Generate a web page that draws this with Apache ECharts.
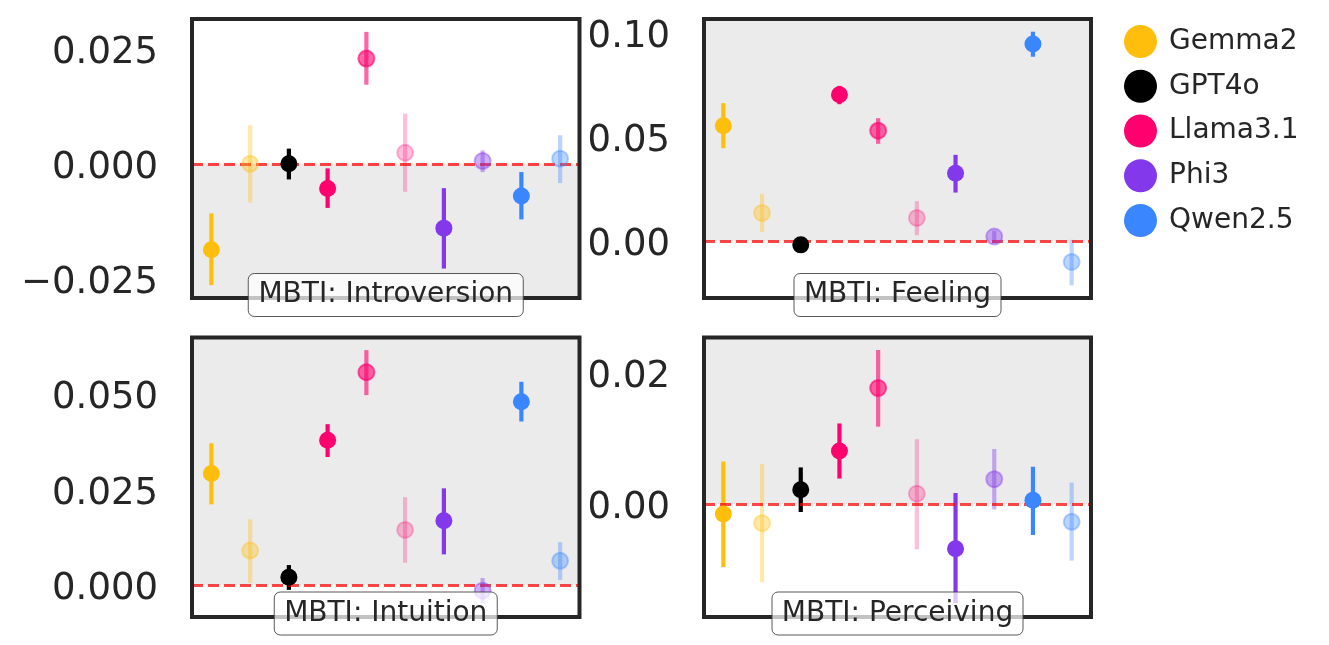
<!DOCTYPE html>
<html>
<head>
<meta charset="utf-8">
<script src="https://cdn.jsdelivr.net/npm/echarts@6/dist/echarts.min.js"></script>
<style>
  html, body { margin: 0; padding: 0; background: #ffffff; }
  #chart { width: 1329px; height: 645px; }
</style>
</head>
<body>
<div id="chart"></div>
<script>
// ---- data ----
const models = ['Gemma2', 'GPT4o', 'Llama3.1', 'Phi3', 'Qwen2.5'];
const modelColors = ['#FFBE0B', '#000000', '#FF006E', '#8338EC', '#3A86FF'];
// 10 plotted points per panel: which model, and how faded
const pointModel = [0, 0, 1, 2, 2, 2, 3, 3, 4, 4];
const pointAlpha = [1, 0.35, 1, 1, 0.6, 0.25, 1, 0.4, 1, 0.35];

const panelTitles = ['MBTI: Introversion', 'MBTI: Feeling', 'MBTI: Intuition', 'MBTI: Perceiving'];

const introMean = [-0.0187, 0.0000, 0.0000, -0.0054, 0.0229, 0.0024, -0.0140, 0.0006, -0.0070, 0.0011];
const introLow  = [-0.0264, -0.0084, -0.0034, -0.0096, 0.0172, -0.0061, -0.0228, -0.0018, -0.0121, -0.0042];
const introHigh = [-0.0108, 0.0084, 0.0033, -0.0010, 0.0287, 0.0109, -0.0053, 0.0029, -0.0018, 0.0062];

const feelMean = [0.0553, 0.0134, -0.0019, 0.0701, 0.0529, 0.0110, 0.0325, 0.0021, 0.0945, -0.0101];
const feelLow  = [0.0445, 0.0042, -0.0031, 0.0656, 0.0466, 0.0027, 0.0232, -0.0011, 0.0884, -0.0213];
const feelHigh = [0.0661, 0.0226, -0.0007, 0.0744, 0.0589, 0.0191, 0.0413, 0.0049, 0.1004, 0.0005];

const intuMean = [0.0292, 0.0090, 0.0020, 0.0379, 0.0557, 0.0144, 0.0168, -0.0015, 0.0480, 0.0063];
const intuLow  = [0.0211, 0.0005, -0.0013, 0.0335, 0.0497, 0.0058, 0.0080, -0.0048, 0.0428, 0.0013];
const intuHigh = [0.0371, 0.0172, 0.0052, 0.0421, 0.0615, 0.0230, 0.0253, 0.0018, 0.0532, 0.0112];

const percMean = [-0.0015, -0.0029, 0.0022, 0.0081, 0.0177, 0.0016, -0.0068, 0.0038, 0.0006, -0.0027];
const percLow  = [-0.0096, -0.0119, -0.0012, 0.0039, 0.0118, -0.0069, -0.0151, -0.0008, -0.0047, -0.0086];
const percHigh = [0.0065, 0.0061, 0.0056, 0.0123, 0.0235, 0.0099, 0.0017, 0.0084, 0.0057, 0.0033];

// axis limits and tick labels
const yMin = [-0.0292, -0.0274, -0.0084, -0.0172];
const yMax = [0.0315, 0.1065, 0.0648, 0.0254];
const yTicks = [[-0.025, 0, 0.025], [0, 0.05, 0.10], [0, 0.025, 0.05], [0, 0.02]];
const yDecimals = [3, 2, 3, 2];
const shadeAbove = [false, true, true, true];

const means = [introMean, feelMean, intuMean, percMean];
const lows = [introLow, feelLow, intuLow, percLow];
const highs = [introHigh, feelHigh, intuHigh, percHigh];

// ---- layout ----
const grids = [
  { left: 192, top: 19, width: 387.5, height: 279 },
  { left: 704, top: 19, width: 387, height: 279 },
  { left: 192, top: 337.5, width: 387.5, height: 279.5 },
  { left: 704, top: 337.5, width: 387, height: 279.5 }
];
const FONT = "'DejaVu Sans', sans-serif";
const TEXT = '#262626';

function rgba(hex, a) {
  const r = parseInt(hex.slice(1, 3), 16), g = parseInt(hex.slice(3, 5), 16), b = parseInt(hex.slice(5, 7), 16);
  return 'rgba(' + r + ',' + g + ',' + b + ',' + a + ')';
}
function pointColor(i) {
  return rgba(modelColors[pointModel[i]], pointAlpha[i]);
}
function fmt(v, d) {
  const s = Math.abs(v).toFixed(d);
  return (v < -1e-12 ? '\u2212' : '') + s;
}

const option = {
  backgroundColor: '#ffffff',
  animation: false,
  grid: grids.map(g => Object.assign({
    show: true, z: 10, backgroundColor: 'transparent',
    borderColor: TEXT, borderWidth: 4, containLabel: false
  }, g)),
  xAxis: grids.map((g, k) => ({
    type: 'value', gridIndex: k, min: -0.5, max: 9.5,
    axisLine: { show: false }, axisTick: { show: false },
    axisLabel: { show: false }, splitLine: { show: false }
  })),
  yAxis: grids.map((g, k) => ({
    type: 'value', gridIndex: k, min: yMin[k], max: yMax[k],
    axisLine: { show: false }, axisTick: { show: false }, splitLine: { show: false },
    axisLabel: {
      customValues: yTicks[k],
      formatter: v => '{v|' + fmt(v, yDecimals[k]) + '}',
      margin: 34,
      rich: {
        v: { fontSize: 37, fontFamily: FONT, color: TEXT, lineHeight: 37, padding: [9, 0, 0, 0] }
      }
    }
  })),
  title: panelTitles.map((t, k) => ({
    text: t,
    left: grids[k].left + grids[k].width / 2 - 10,
    top: k < 2 ? 273 : 591.5,
    textAlign: 'center',
    padding: [5, 10, 5, 10],
    backgroundColor: 'rgba(255,255,255,0.72)',
    borderColor: 'rgba(60,60,60,0.85)',
    borderWidth: 1,
    borderRadius: 6,
    z: 12,
    textStyle: { fontSize: 28, fontWeight: 'normal', fontFamily: FONT, color: TEXT, lineHeight: 34 }
  })),
  legend: {
    orient: 'vertical', left: 1124, top: 23.5, padding: 0,
    itemWidth: 33, itemHeight: 33, itemGap: 8.75,
    icon: 'circle',
    textStyle: { fontSize: 28, fontFamily: FONT, color: TEXT, lineHeight: 33, padding: [3, 0, 0, 7] },
    data: models
  },
  series: []
};

// legend proxy series
models.forEach((m, j) => {
  option.series.push({
    name: m, type: 'scatter', xAxisIndex: 0, yAxisIndex: 0, data: [],
    itemStyle: { color: modelColors[j], opacity: 1 }
  });
});

for (let k = 0; k < 4; k++) {
  const errData = means[k].map((v, i) => [i, lows[k][i], highs[k][i]]);
  option.series.push({
    type: 'custom', xAxisIndex: k, yAxisIndex: k, z: 2, silent: true,
    data: errData,
    renderItem: (params, api) => {
      const i = api.value(0);
      const p1 = api.coord([i, api.value(1)]);
      const p2 = api.coord([i, api.value(2)]);
      return {
        type: 'line',
        shape: { x1: p1[0], y1: p1[1], x2: p2[0], y2: p2[1] },
        style: { stroke: pointColor(i), lineWidth: 4.2 }
      };
    },
    markArea: {
      silent: true, z: 1,
      itemStyle: { color: '#EBEBEB', opacity: 1 },
      data: [[{ yAxis: shadeAbove[k] ? 0 : yMin[k] }, { yAxis: shadeAbove[k] ? yMax[k] : 0 }]]
    },
    markLine: {
      silent: true, z: 3, symbol: ['none', 'none'],
      label: { show: false },
      lineStyle: { color: 'rgba(255,0,0,0.72)', width: 3, type: [11, 5], opacity: 1 },
      data: [{ yAxis: 0 }]
    }
  });
  option.series.push({
    type: 'scatter', xAxisIndex: k, yAxisIndex: k, z: 4, silent: true,
    symbol: 'circle',
    itemStyle: { opacity: 1 },
    data: means[k].map((v, i) => ({
      value: [i, v],
      symbolSize: pointAlpha[i] < 1 ? 16 : 17,
      itemStyle: pointAlpha[i] < 1
        ? { color: pointColor(i), borderColor: pointColor(i), borderWidth: 2, opacity: 1 }
        : { color: pointColor(i), borderWidth: 0, opacity: 1 }
    }))
  });
}

const chart = echarts.init(document.getElementById('chart'), null, { renderer: 'canvas' });
chart.setOption(option);
</script>
</body>
</html>
